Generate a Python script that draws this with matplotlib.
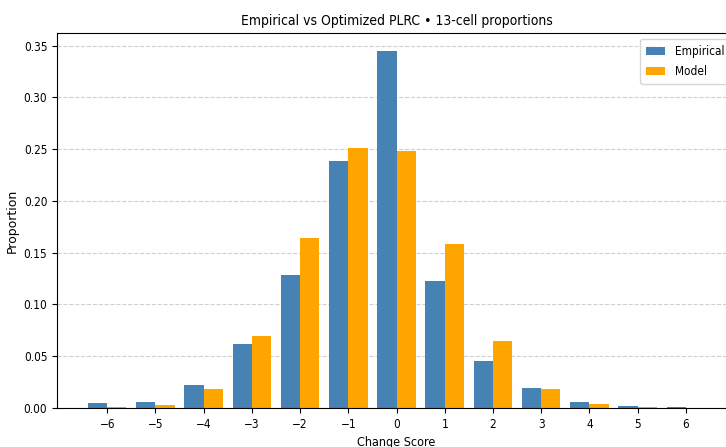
import numpy as np
import matplotlib
matplotlib.use("Agg")
import matplotlib.pyplot as plt

scores = [-6, -5, -4, -3, -2, -1, 0, 1, 2, 3, 4, 5, 6]
empirical = [0.0044, 0.0062, 0.022, 0.062, 0.128, 0.239, 0.345, 0.123, 0.045, 0.019, 0.0055, 0.0015, 0.0008]
model = [0.0008, 0.0033, 0.018, 0.070, 0.164, 0.251, 0.248, 0.158, 0.065, 0.018, 0.0035, 0.0007, 0.0002]

plt.rcParams["font.family"] = "DejaVu Sans"
plt.rcParams["font.stretch"] = "condensed"

fig = plt.figure(figsize=(7.26, 4.47), dpi=100)
ax = fig.add_axes([57/726, 39/447, 679/726, 375/447])
x = np.array(scores)
w = 0.4
ax.bar(x - w/2, empirical, width=w, color="steelblue", label="Empirical")
ax.bar(x + w/2, model, width=w, color="orange", label="Model")
ax.set_xticks(scores)
ax.set_xlabel("Change Score", fontsize=9)
ax.set_ylabel("Proportion", fontsize=9, fontstretch="normal")
ax.yaxis.set_label_coords(-0.057, 0.5)
ax.set_title("Empirical vs Optimized PLRC \u2022 13-cell proportions", fontsize=10)
ax.tick_params(labelsize=8.5)
ax.grid(axis="y", linestyle="--", alpha=0.6)
ax.set_axisbelow(True)
ax.legend(fontsize=8.5, handlelength=1.6, labelspacing=0.6, borderpad=0.5)
fig.savefig("out.png", dpi=100)
